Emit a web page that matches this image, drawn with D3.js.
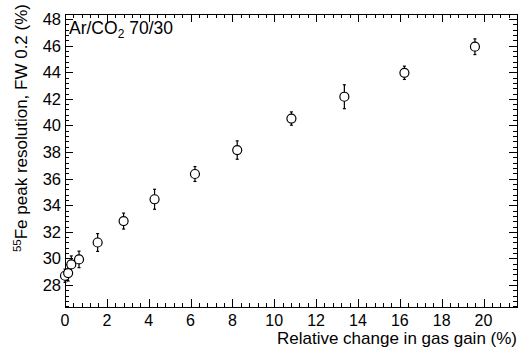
<!DOCTYPE html>
<html>
<head>
<meta charset="utf-8">
<script src="https://cdn.jsdelivr.net/npm/d3@7"></script>
<style>
body{margin:0;background:#fff;}
text{font-family:"Liberation Sans",Arial,Helvetica,sans-serif;fill:#000;}
</style>
</head>
<body>
<svg id="c" width="521" height="347"></svg>
<script>
const gainChange = [0.0, 0.15, 0.3, 0.67, 1.56, 2.8, 4.28, 6.21, 8.23, 10.82, 13.35, 16.22, 19.59];
const resolution = [28.7, 28.9, 29.55, 29.93, 31.2, 32.81, 34.45, 36.35, 38.15, 40.52, 42.16, 43.96, 45.92];
const resolutionErr = [0.5, 0.6, 0.64, 0.62, 0.67, 0.6, 0.75, 0.56, 0.69, 0.5, 0.9, 0.5, 0.59];
const xTicks = [0, 2, 4, 6, 8, 10, 12, 14, 16, 18, 20];
const yTicks = [28, 30, 32, 34, 36, 38, 40, 42, 44, 46, 48];

const W = 521, H = 347;
const m = {left: 65, right: 4, top: 14, bottom: 40};
const svg = d3.select("#c");
const x = d3.scaleLinear().domain([0, 21.6]).range([m.left, W - m.right]);
const y = d3.scaleLinear().domain([26.35, 48.38]).range([H - m.bottom, m.top]);

const x0 = x.range()[0], x1 = x.range()[1], y0 = y.range()[0], y1 = y.range()[1];
const MAJ = 8, MIN = 4;

const xMinor = d3.range(0, 21.6 + 1e-9, 0.4).filter(v => Math.abs(v/2 - Math.round(v/2)) > 1e-6);
const yMinor = d3.range(26.4, 48.38 + 1e-9, 0.4).filter(v => Math.abs(v/2 - Math.round(v/2)) > 1e-6);

const g = svg.append("g").attr("stroke", "#000").attr("stroke-width", 1).attr("shape-rendering", "crispEdges");
g.append("rect").attr("x", x0).attr("y", y1).attr("width", x1 - x0).attr("height", y0 - y1).attr("fill", "none");

const xAxisB = d3.axisBottom(x).tickValues(xTicks).tickSize(-MAJ).tickFormat("");
const xAxisBm = d3.axisBottom(x).tickValues(xMinor).tickSize(-MIN).tickFormat("");
const xAxisT = d3.axisTop(x).tickValues(xTicks).tickSize(-MAJ).tickFormat("");
const xAxisTm = d3.axisTop(x).tickValues(xMinor).tickSize(-MIN).tickFormat("");
const yAxisL = d3.axisLeft(y).tickValues(yTicks).tickSize(-MAJ).tickFormat("");
const yAxisLm = d3.axisLeft(y).tickValues(yMinor).tickSize(-MIN).tickFormat("");
const yAxisR = d3.axisRight(y).tickValues(yTicks).tickSize(-MAJ).tickFormat("");
const yAxisRm = d3.axisRight(y).tickValues(yMinor).tickSize(-MIN).tickFormat("");

function put(axis, tx, ty){
  const a = svg.append("g").attr("transform", `translate(${tx},${ty})`).call(axis);
  a.select(".domain").remove();
  a.selectAll("line").attr("stroke", "#000").attr("shape-rendering", "crispEdges");
}
put(xAxisB, 0, y0); put(xAxisBm, 0, y0);
put(xAxisT, 0, y1); put(xAxisTm, 0, y1);
put(yAxisL, x0, 0); put(yAxisLm, x0, 0);
put(yAxisR, x1, 0); put(yAxisRm, x1, 0);

svg.append("g").selectAll("text").data(xTicks).join("text")
  .attr("x", d => x(d)).attr("y", y0 + 18.5).attr("text-anchor", "middle")
  .attr("font-size", 16).text(d => d);
svg.append("g").selectAll("text").data(yTicks).join("text")
  .attr("x", x0 - 4).attr("y", d => y(d)).attr("dy", "0.36em").attr("text-anchor", "end")
  .attr("font-size", 16.5).text(d => d);

svg.append("text").attr("x", x1).attr("y", 344).attr("text-anchor", "end")
  .attr("font-size", 17).text("Relative change in gas gain (%)");
const yt = svg.append("text").attr("transform", `translate(27,4) rotate(-90)`)
  .attr("text-anchor", "end").attr("font-size", 17);
yt.append("tspan").attr("font-size", 11.5).attr("dy", -6).text("55");
yt.append("tspan").attr("dy", 6).text("Fe peak resolution, FW 0.2 (%)");

const lab = svg.append("text").attr("x", 69).attr("y", 34).attr("font-size", 17.5);
lab.append("tspan").text("Ar/CO");
lab.append("tspan").attr("font-size", 12).attr("dy", 4).text("2");
lab.append("tspan").attr("dy", -4).text(" 70/30");

const pts = gainChange.map((v, i) => ({x: v, y: resolution[i], e: resolutionErr[i]}));
const eg = svg.append("g").attr("stroke", "#000").attr("stroke-width", 1.2);
eg.selectAll("line.eb").data(pts).join("line").attr("class", "eb")
  .attr("x1", d => x(d.x)).attr("x2", d => x(d.x))
  .attr("y1", d => y(d.y - d.e)).attr("y2", d => y(d.y + d.e));
eg.selectAll("line.ct").data(pts).join("line").attr("class", "ct")
  .attr("x1", d => x(d.x) - 1.5).attr("x2", d => x(d.x) + 1.5)
  .attr("y1", d => y(d.y + d.e)).attr("y2", d => y(d.y + d.e));
eg.selectAll("line.cb").data(pts).join("line").attr("class", "cb")
  .attr("x1", d => x(d.x) - 1.5).attr("x2", d => x(d.x) + 1.5)
  .attr("y1", d => y(d.y - d.e)).attr("y2", d => y(d.y - d.e));
svg.append("g").selectAll("circle").data(pts).join("circle")
  .attr("cx", d => x(d.x)).attr("cy", d => y(d.y)).attr("r", 4.5)
  .attr("fill", "#fff").attr("stroke", "#000").attr("stroke-width", 1.2);
</script>
</body>
</html>
